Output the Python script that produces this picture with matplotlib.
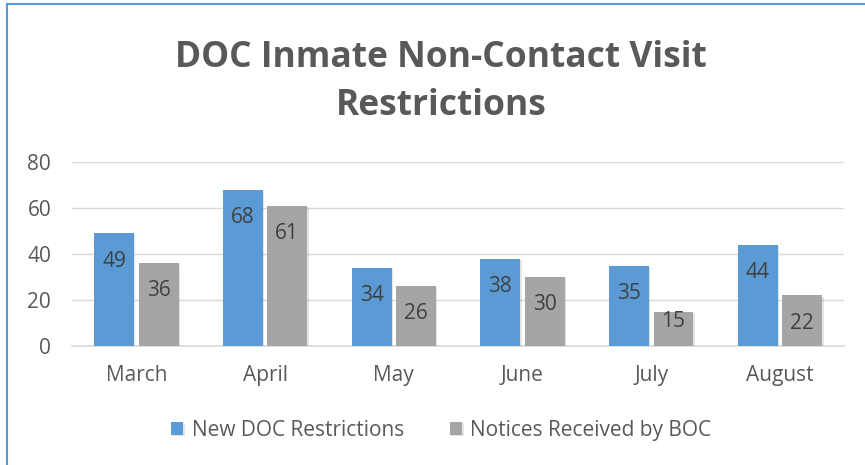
import matplotlib
matplotlib.use("Agg")
import matplotlib.pyplot as plt
import matplotlib.patheffects as pe
from matplotlib.lines import Line2D
import numpy as np

months = ["March", "April", "May", "June", "July", "August"]
new_doc = [49, 68, 34, 38, 35, 44]
notices_boc = [36, 61, 26, 30, 15, 22]
series_names = ["New DOC Restrictions", "Notices Received by BOC"]
yticks = [0, 20, 40, 60, 80]
title = "DOC Inmate Non-Contact Visit\nRestrictions"

blue = "#5B9BD5"
gray = "#A5A5A5"
text_col = "#595959"
label_col = "#404040"

plt.rcParams['font.family'] = ['Open Sans', 'DejaVu Sans']

fig = plt.figure(figsize=(8.65, 4.65), dpi=100)
ax = fig.add_axes([0.0832, 0.2559, 0.893, 0.3957])

x = np.arange(len(months))
w = 0.31
gap = 0.035
shadow = [pe.SimplePatchShadow(offset=(1, -1), shadow_rgbFace="#000000", alpha=0.10), pe.Normal()]
b1 = ax.bar(x - (w + gap) / 2, new_doc, w, color=blue, label=series_names[0], zorder=3, path_effects=shadow)
b2 = ax.bar(x + (w + gap) / 2, notices_boc, w, color=gray, label=series_names[1], zorder=3, path_effects=shadow)

for bars, vals in ((b1, new_doc), (b2, notices_boc)):
    for r, v in zip(bars, vals):
        off = -20 if v > 20 else -7
        ax.annotate(str(v), (r.get_x() + r.get_width() / 2, v), xytext=(0, off),
                    textcoords="offset points", ha="center", va="center",
                    fontsize=15, color=label_col, zorder=4)

ax.set_xlim(-0.5, len(months) - 0.5)
ax.set_ylim(0, 80)
ax.set_yticks(yticks)
ax.set_yticklabels([str(t) for t in yticks])
ax.set_xticks(x)
ax.set_xticklabels(months)
ax.tick_params(axis="both", length=0, labelsize=15, colors=text_col)
ax.tick_params(axis="y", pad=15)
ax.tick_params(axis="x", pad=14)
ax.yaxis.grid(True, color="#D9D9D9", linewidth=1, zorder=0)
ax.set_axisbelow(True)
for s in ["top", "right", "left"]:
    ax.spines[s].set_visible(False)
ax.spines["bottom"].set_color("#D9D9D9")
ax.spines["bottom"].set_linewidth(1.2)

fig.text(0.51, 0.823, title, ha="center", va="center", fontsize=25.5, fontweight="bold",
         color=text_col, linespacing=1.45)

leg = fig.legend(handles=[b1, b2], loc="center", bbox_to_anchor=(0.51, 0.075), ncol=2,
                 frameon=False, fontsize=15, handlelength=0.6, handleheight=0.6,
                 handletextpad=0.4, columnspacing=2.2)
for t in leg.get_texts():
    t.set_color(text_col)

fig.add_artist(Line2D([0.008, 1.0], [0.991, 0.991], color=blue, linewidth=1.5, transform=fig.transFigure))
fig.add_artist(Line2D([0.008, 0.008], [0.0, 0.991], color=blue, linewidth=1.5, transform=fig.transFigure))

fig.savefig("out.png", dpi=100, facecolor="white")
